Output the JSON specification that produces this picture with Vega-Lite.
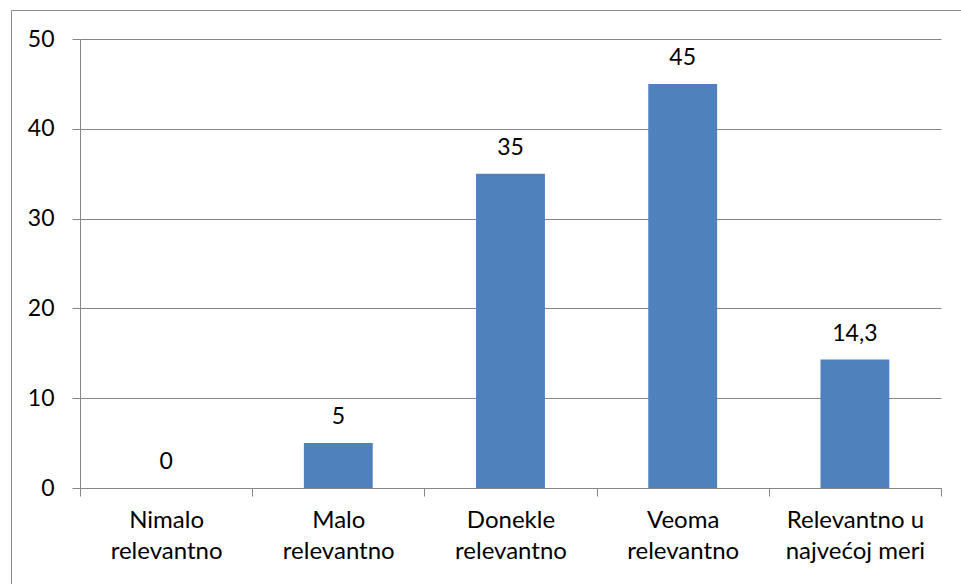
{
  "$schema": "https://vega.github.io/schema/vega-lite/v6.json",
  "autosize": "none",
  "padding": {"left": 11, "top": 10, "right": 0, "bottom": 0},
  "width": 952,
  "height": 580,
  "background": "white",
  "config": {
    "view": {"stroke": "#8a8a8a", "strokeWidth": 1},
    "font": "Lato",
    "locale": {"number": {"decimal": ",", "thousands": ".", "grouping": [3], "currency": ["", ""]}}
  },
  "data": {
    "values": [
      {"kategorija": "Nimalo relevantno", "vrednost": 0},
      {"kategorija": "Malo relevantno", "vrednost": 5},
      {"kategorija": "Donekle relevantno", "vrednost": 35},
      {"kategorija": "Veoma relevantno", "vrednost": 45},
      {"kategorija": "Relevantno u najvećoj meri", "vrednost": 14.3}
    ]
  },
  "encoding": {
    "x": {
      "field": "kategorija",
      "type": "nominal",
      "sort": null,
      "scale": {"range": [69, 930], "paddingInner": 0, "paddingOuter": 0},
      "axis": {
        "title": null,
        "orient": "bottom",
        "offset": -102,
        "tickBand": "extent",
        "tickSize": 8,
        "tickColor": "#868686",
        "domainColor": "#868686",
        "labelAngle": 0,
        "labelFont": "Lato",
        "labelFontSize": 24,
        "labelColor": "#000000",
        "labelPadding": 12,
        "labelLineHeight": 31,
        "labelLimit": 0,
        "labelOverlap": false,
        "labelFlush": false,
        "labelExpr": "!isValid(datum.value) ? '' : datum.value == 'Relevantno u najvećoj meri' ? ['Relevantno u', 'najvećoj meri'] : split(datum.value, ' ')"
      }
    },
    "y": {
      "field": "vrednost",
      "type": "quantitative",
      "scale": {"domain": [0, 50], "range": [478, 29], "nice": false},
      "axis": {
        "title": null,
        "orient": "left",
        "offset": -69,
        "values": [0, 10, 20, 30, 40, 50],
        "grid": true,
        "gridColor": "#868686",
        "tickSize": 8,
        "tickColor": "#868686",
        "domainColor": "#868686",
        "labelFont": "Lato",
        "labelFontSize": 23,
        "labelColor": "#000000",
        "labelPadding": 18
      }
    }
  },
  "layer": [
    {
      "mark": {"type": "bar", "color": "#4F81BD", "width": {"band": 0.4}}
    },
    {
      "mark": {"type": "text", "baseline": "alphabetic", "dy": -19, "fontSize": 23, "font": "Lato", "color": "#000000"},
      "encoding": {
        "text": {"field": "vrednost", "type": "quantitative", "format": ".1~f"}
      }
    }
  ]
}
